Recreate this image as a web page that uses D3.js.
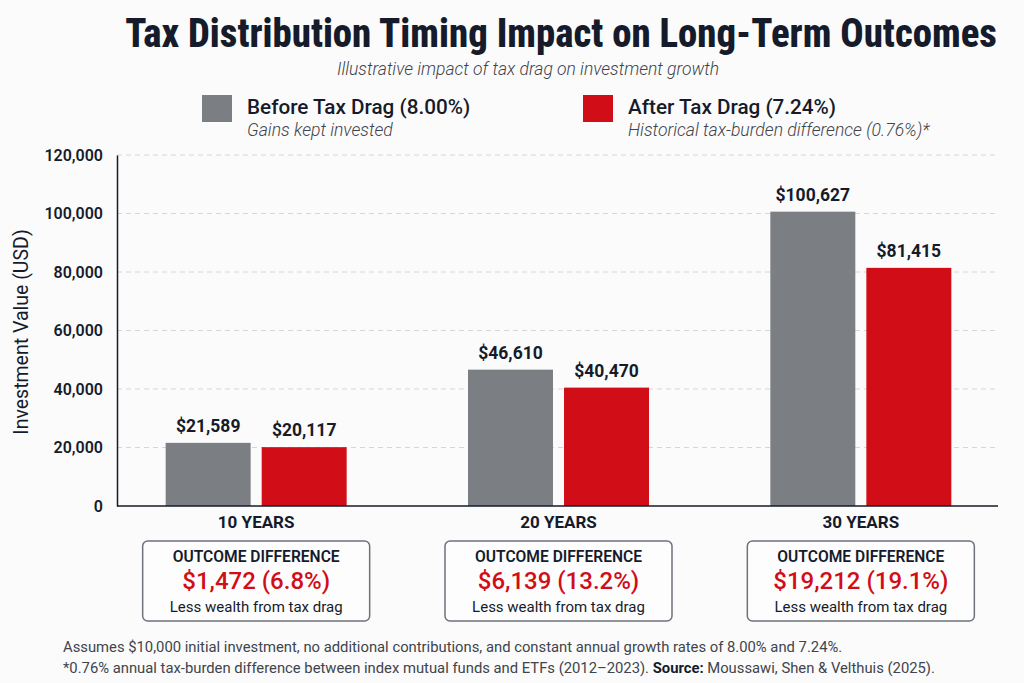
<!DOCTYPE html>
<html><head><meta charset="utf-8">
<script src="https://cdn.jsdelivr.net/npm/d3@7/dist/d3.min.js"></script>
<style>
html,body{margin:0;padding:0;background:#fbfbfb;}
svg{display:block;}
</style></head>
<body>
<svg id="chart" width="1024" height="683"></svg>
<script>
// ---- data ----
const categories = ["10 YEARS", "20 YEARS", "30 YEARS"];
const seriesNames = ["Before Tax Drag (8.00%)", "After Tax Drag (7.24%)"];
const seriesSubs = ["Gains kept invested", "Historical tax-burden difference (0.76%)*"];
const beforeValues = [21589, 46610, 100627];
const afterValues = [20117, 40470, 81415];
const diffLabels = ["$1,472 (6.8%)", "$6,139 (13.2%)", "$19,212 (19.1%)"];
const yTicks = [0, 20000, 40000, 60000, 80000, 100000, 120000];

const SANS = "Roboto,'Noto Sans',sans-serif";
const colors = ["#7b7e83", "#d10d17"];
const dark = "#151b2b";

const svg = d3.select("#chart");
svg.append("rect").attr("width",1024).attr("height",683).attr("fill","#fbfbfb");

// title (condensed heavy, horizontally fitted to the reference width)
const titleG = svg.append("g");
const title = titleG.append("text").attr("x",0).attr("y",0).attr("text-anchor","middle")
  .attr("font-family",SANS).attr("font-weight",800).attr("font-size",41)
  .attr("font-stretch","condensed")
  .attr("fill",dark).text("Tax Distribution Timing Impact on Long-Term Outcomes");
const tw = title.node().getComputedTextLength();
const sx = Math.min(1, 872 / tw);
titleG.attr("transform",`translate(561,47) scale(${sx},1)`);

svg.append("text").attr("x",528).attr("y",75).attr("text-anchor","middle")
  .attr("font-family",SANS).attr("font-style","italic").attr("font-size",17.5)
  .attr("font-weight",300)
  .attr("fill","#3f434b").text("Illustrative impact of tax drag on investment growth");

// legend
const legX = [202, 583];
seriesNames.forEach((n,i)=>{
  const g = svg.append("g").attr("transform",`translate(${legX[i]},95)`);
  g.append("rect").attr("width",30).attr("height",27).attr("fill",colors[i]);
  g.append("text").attr("x",45).attr("y",19).attr("font-family",SANS)
    .attr("font-weight",500).attr("font-size",20.7)
    .attr("fill",dark).text(n);
  g.append("text").attr("x",45).attr("y",41).attr("font-family",SANS)
    .attr("font-style","italic").attr("font-weight",300).attr("font-size",17.6)
    .attr("fill","#3f434b").text(seriesSubs[i]);
});

// scales
const y = d3.scaleLinear().domain([0,120000]).range([506,155]);
const x0 = d3.scaleBand().domain(categories).range([105,1012]).paddingInner(0);
const x1 = d3.scaleBand().domain([0,1]).range([-90.5,90.5]).paddingInner(0.115);

// grid
svg.append("g").selectAll("line").data(yTicks.filter(t=>t>0)).join("line")
  .attr("x1",117).attr("x2",998).attr("y1",d=>y(d)).attr("y2",d=>y(d))
  .attr("stroke","#d4d6da").attr("stroke-width",1).attr("stroke-dasharray","5,4");

// y axis
const yAxis = svg.append("g").attr("transform","translate(117,0)")
  .call(d3.axisLeft(y).tickValues(yTicks).tickSize(0).tickPadding(14).tickFormat(d3.format(",")));
yAxis.select(".domain").attr("stroke",dark).attr("stroke-width",1.5);
yAxis.selectAll("text").attr("font-family",SANS)
  .attr("font-weight",600).attr("font-size",16).attr("fill",dark);

svg.append("text").attr("transform","translate(28,332) rotate(-90)")
  .attr("text-anchor","middle").attr("font-family",SANS)
  .attr("font-weight",400).attr("font-size",19.5).attr("fill",dark).text("Investment Value (USD)");

// bars
const rows = categories.map((c,i)=>({cat:c, vals:[beforeValues[i], afterValues[i]]}));
const grp = svg.append("g").selectAll("g").data(rows).join("g")
  .attr("transform",d=>`translate(${x0(d.cat)+x0.bandwidth()/2},0)`);
grp.selectAll("rect").data(d=>d.vals.map((v,k)=>({v,k}))).join("rect")
  .attr("x",d=>x1(d.k)).attr("width",x1.bandwidth())
  .attr("y",d=>y(d.v)).attr("height",d=>y(0)-y(d.v))
  .attr("fill",d=>colors[d.k]);
grp.selectAll("text.val").data(d=>d.vals.map((v,k)=>({v,k}))).join("text")
  .attr("class","val").attr("x",d=>x1(d.k)+x1.bandwidth()/2).attr("y",d=>y(d.v)-11)
  .attr("text-anchor","middle").attr("font-family",SANS)
  .attr("font-weight",700).attr("font-size",17.5).attr("fill",dark)
  .text(d=>"$"+d3.format(",")(d.v));

// x axis
const xAxis = svg.append("g").attr("transform","translate(0,506)")
  .call(d3.axisBottom(x0).tickSize(0).tickPadding(10));
xAxis.select(".domain").remove();
svg.append("line").attr("x1",117).attr("x2",998).attr("y1",506).attr("y2",506)
  .attr("stroke",dark).attr("stroke-width",1.5);
xAxis.selectAll("text").attr("font-family",SANS)
  .attr("font-weight",700).attr("font-size",17).attr("fill",dark);

// outcome boxes
const boxes = svg.append("g").selectAll("g").data(categories).join("g")
  .attr("transform",c=>`translate(${x0(c)+x0.bandwidth()/2},0)`);
boxes.append("rect").attr("x",-113.5).attr("y",541).attr("width",227).attr("height",80)
  .attr("rx",5).attr("fill","#fdfdfd").attr("stroke","#6e727a").attr("stroke-width",1.5);
boxes.append("text").attr("y",562).attr("text-anchor","middle")
  .attr("font-family",SANS).attr("font-weight",600)
  .attr("font-size",15.6).attr("fill",dark).text("OUTCOME DIFFERENCE");
boxes.append("text").attr("y",589).attr("text-anchor","middle")
  .attr("font-family",SANS).attr("font-weight",500).attr("font-size",24)
  .attr("fill",colors[1]).text((c,i)=>diffLabels[i]);
boxes.append("text").attr("y",612).attr("text-anchor","middle")
  .attr("font-family",SANS).attr("font-size",15).attr("fill",dark)
  .text("Less wealth from tax drag");

// footnotes
const fn = svg.append("g").attr("font-family",SANS).attr("font-size",14.8).attr("fill","#40444c");
fn.append("text").attr("x",63).attr("y",652)
  .text("Assumes $10,000 initial investment, no additional contributions, and constant annual growth rates of 8.00% and 7.24%.");
const t2 = fn.append("text").attr("x",63).attr("y",673);
t2.append("tspan").text("*0.76% annual tax-burden difference between index mutual funds and ETFs (2012–2023). ");
t2.append("tspan").attr("font-weight",700).attr("fill",dark).text("Source:");
t2.append("tspan").text(" Moussawi, Shen & Velthuis (2025).");
</script>
</body></html>
